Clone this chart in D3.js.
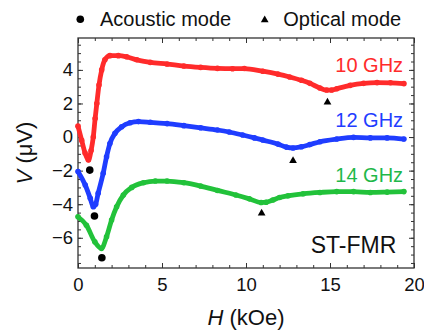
<!DOCTYPE html>
<html>
<head>
<meta charset="utf-8">
<script src="https://cdn.jsdelivr.net/npm/d3@7"></script>
<style>
  body { margin: 0; background: #fff; }
  svg { display: block; font-family: "Liberation Sans", Arial, sans-serif; }
</style>
</head>
<body>
<svg id="chart"></svg>
<script>
// 10 GHz curve
var redH = [0, 0.22, 0.42, 0.62, 0.78, 0.91, 1.02, 1.12, 1.25, 1.41, 1.6, 1.9, 2.4, 2.9, 3.5, 4.3, 5.3, 6.3, 7.3, 8.3, 9.2, 9.9, 11.0, 11.9, 12.6, 13.3, 13.8, 14.4, 14.8, 15.1, 15.4, 16.2, 17.0, 17.8, 18.6, 19.4]
var redV = [0.65, -0.2, -0.95, -1.37, -0.8, 0.0, 1.1, 2.0, 3.1, 4.0, 4.6, 4.85, 4.85, 4.78, 4.6, 4.45, 4.35, 4.23, 4.15, 4.09, 4.07, 4.08, 3.92, 3.75, 3.58, 3.38, 3.2, 2.92, 2.8, 2.8, 2.88, 3.08, 3.2, 3.24, 3.23, 3.18]

// 12 GHz curve
var blueH = [0, 0.43, 0.73, 0.91, 1.05, 1.2, 1.5, 1.7, 1.9, 2.2, 2.6, 3.1, 3.6, 4.3, 5.3, 6.3, 7.3, 8.3, 9.0, 9.8, 10.5, 11.0, 11.9, 12.4, 12.8, 13.3, 13.8, 14.4, 15.4, 16.4, 17.4, 18.4, 19.4]
var blueV = [-2.05, -2.86, -3.65, -4.15, -4.0, -3.35, -2.16, -1.17, -0.38, 0.22, 0.61, 0.85, 0.92, 0.88, 0.8, 0.68, 0.55, 0.42, 0.3, 0.12, -0.05, -0.18, -0.42, -0.6, -0.65, -0.58, -0.45, -0.28, -0.12, -0.02, -0.05, -0.05, -0.12]

// 14 GHz curve
var greenH = [0, 0.5, 1.0, 1.4, 1.7, 2.0, 2.3, 2.7, 3.2, 3.9, 4.6, 5.3, 6.3, 7.3, 8.3, 9.4, 10.2, 10.9, 11.2, 11.6, 12.0, 12.5, 13.4, 14.4, 15.4, 16.4, 17.4, 18.4, 19.4]
var greenV = [-4.75, -5.25, -6.24, -6.63, -5.94, -4.94, -4.15, -3.45, -3.0, -2.72, -2.62, -2.62, -2.72, -2.92, -3.18, -3.45, -3.68, -3.9, -3.88, -3.75, -3.6, -3.5, -3.38, -3.3, -3.25, -3.25, -3.3, -3.28, -3.25]

// mode markers (red, blue, green)
var acousticH = [0.7, 0.98, 1.42]
var acousticV = [-1.97, -4.7, -7.19]
var opticalH = [14.85, 12.8, 10.93]
var opticalV = [2.07, -1.41, -4.54]

var freqLabels = ["10 GHz", "12 GHz", "14 GHz"]
var labelV = [3.85, 0.6, -2.65]
var colors = ["#ff2b2b", "#1f3dff", "#22c23a"]
var labelColors = ["#ff2b2b", "#1f3dff", "#1fb84a"]

var xTicks = [0, 5, 10, 15, 20]
var yTicks = [-6, -4, -2, 0, 2, 4]

var dimensions = {
  width: 424,
  height: 331,
  margin: { top: 38, bottom: 63, left: 78, right: 10 }
}
var plotW = dimensions.width - dimensions.margin.left - dimensions.margin.right
var plotH = dimensions.height - dimensions.margin.top - dimensions.margin.bottom

var svg = d3.select("#chart")
  .attr("width", dimensions.width)
  .attr("height", dimensions.height)

var g = svg.append("g")
  .attr("transform", "translate(" + dimensions.margin.left + "," + dimensions.margin.top + ")")

var x = d3.scaleLinear().domain([0, 20]).range([0, plotW])
var y = d3.scaleLinear().domain([-7.8, 5.9]).range([plotH, 0])

var xMinor = d3.range(0, 21, 1)
var yMinor = d3.range(-7.5, 6, 0.5)

function tickAxis(axis, vals, size, fmt) {
  return axis.tickValues(vals).tickSizeInner(size).tickSizeOuter(0).tickFormat(fmt)
}

// minor ticks, all four sides, pointing inward
var axes = [
  [d3.axisBottom(x), "translate(0," + plotH + ")", xMinor],
  [d3.axisTop(x), "translate(0,0)", xMinor],
  [d3.axisLeft(y), "translate(0,0)", yMinor],
  [d3.axisRight(y), "translate(" + plotW + ",0)", yMinor]
]

axes.forEach(function(a) {
  var minor = g.append("g").attr("transform", a[1])
    .call(tickAxis(a[0], a[2], -3, ""))
  minor.select(".domain").remove()
  minor.selectAll("line").attr("stroke", "#333")
})

var xb = g.append("g").attr("transform", "translate(0," + plotH + ")")
  .call(tickAxis(d3.axisBottom(x), xTicks, -5, d3.format("d")).tickPadding(10))
var xt = g.append("g")
  .call(tickAxis(d3.axisTop(x), xTicks, -5, ""))
var yl = g.append("g")
  .call(tickAxis(d3.axisLeft(y), yTicks, -5, d3.format("d")).tickPadding(5))
var yr = g.append("g").attr("transform", "translate(" + plotW + ",0)")
  .call(tickAxis(d3.axisRight(y), yTicks, -5, ""))

;[xb, xt, yl, yr].forEach(function(s) {
  s.select(".domain").remove()
  s.selectAll("line").attr("stroke", "#333")
  s.selectAll("text").attr("fill", "#111").style("font-size", "18.5px")
    .style("font-family", "'Liberation Sans', Arial, sans-serif")
})

g.append("rect")
  .attr("width", plotW)
  .attr("height", plotH)
  .attr("fill", "none")
  .attr("stroke", "#333")
  .attr("stroke-width", 1.3)

// curves
var series = [[redH, redV], [blueH, blueV], [greenH, greenV]]
var line = d3.line()
  .x(function(d) { return x(d[0]) })
  .y(function(d) { return y(d[1]) })
  .curve(d3.curveMonotoneX)

series.forEach(function(s, i) {
  var pts = s[0].map(function(h, j) { return [h, s[1][j]] })
  g.append("path")
    .datum(pts)
    .attr("d", line)
    .attr("fill", "none")
    .attr("stroke", colors[i])
    .attr("stroke-width", 4.8)
    .attr("stroke-linecap", "round")
    .attr("stroke-linejoin", "round")
  g.append("g").selectAll("circle")
    .data(pts)
    .enter().append("circle")
    .attr("cx", function(d) { return x(d[0]) })
    .attr("cy", function(d) { return y(d[1]) })
    .attr("r", 2.8)
    .attr("fill", colors[i])

  g.append("text")
    .text(freqLabels[i])
    .attr("x", x(19.35))
    .attr("y", y(labelV[i]))
    .attr("text-anchor", "end")
    .attr("fill", labelColors[i])
    .style("font-size", "20px")
})

// markers
var tri = d3.symbol().type(d3.symbolTriangle).size(26)
g.selectAll(".ac")
  .data(acousticH)
  .enter().append("circle")
  .attr("cx", function(d) { return x(d) })
  .attr("cy", function(d, i) { return y(acousticV[i]) })
  .attr("r", 3.8)
  .attr("fill", "#000")
g.selectAll(".op")
  .data(opticalH)
  .enter().append("path")
  .attr("d", tri)
  .attr("transform", function(d, i) { return "translate(" + x(d) + "," + y(opticalV[i]) + ")" })
  .attr("fill", "#000")

g.append("text")
  .text("ST-FMR")
  .attr("x", x(18.95))
  .attr("y", y(-6.9))
  .attr("text-anchor", "end")
  .attr("fill", "#111")
  .style("font-size", "23px")

// legend
svg.append("circle").attr("cx", 80.3).attr("cy", 19.2).attr("r", 3.8).attr("fill", "#000")
svg.append("text").text("Acoustic mode").attr("x", 100).attr("y", 25.7)
  .attr("fill", "#111").style("font-size", "20px")
svg.append("path").attr("d", tri).attr("transform", "translate(264.7,20)").attr("fill", "#000")
svg.append("text").text("Optical mode").attr("x", 283.3).attr("y", 25.7)
  .attr("fill", "#111").style("font-size", "20px")

// axis titles
var yTitle = svg.append("text")
  .attr("transform", "translate(31.5," + (dimensions.margin.top + plotH / 2) + ") rotate(-90)")
  .attr("text-anchor", "middle")
  .attr("fill", "#111")
  .style("font-size", "22px")
yTitle.append("tspan").text("V").style("font-style", "italic")
yTitle.append("tspan").text(" (\u03bcV)")

var xTitle = svg.append("text")
  .attr("x", dimensions.margin.left + plotW / 2)
  .attr("y", 325)
  .attr("text-anchor", "middle")
  .attr("fill", "#111")
  .style("font-size", "22px")
xTitle.append("tspan").text("H").style("font-style", "italic")
xTitle.append("tspan").text(" (kOe)")
</script>
</body>
</html>
